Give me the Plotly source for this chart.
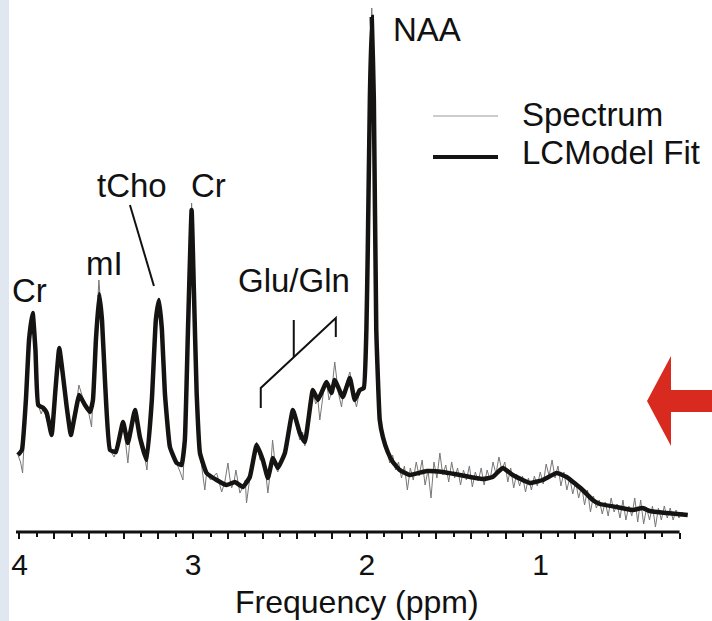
import plotly.graph_objects as go

W, H = 712, 621
ML, MR, MT, MB = 16, 22, 0, 89
PW, PH = W - ML - MR, H - MT - MB
FONT = "Arial, 'Liberation Sans', Helvetica, sans-serif"

# ---------------- data (ppm, arbitrary units) ----------------
fit_ppm = [
    4.009, 3.986, 3.963, 3.945, 3.924, 3.908, 3.892, 3.863, 3.843, 3.815,
    3.793, 3.771, 3.750, 3.728, 3.704, 3.681, 3.656, 3.623, 3.594, 3.577,
    3.560, 3.541, 3.525, 3.508, 3.479, 3.445, 3.404, 3.376, 3.335, 3.307,
    3.268, 3.238, 3.215, 3.197, 3.180, 3.163, 3.134, 3.095, 3.067, 3.048,
    3.030, 3.009, 2.996, 2.980, 2.961, 2.923, 2.865, 2.808, 2.760, 2.714,
    2.674, 2.635, 2.599, 2.570, 2.541, 2.513, 2.472, 2.426, 2.386, 2.357,
    2.311, 2.282, 2.232, 2.204, 2.185, 2.139, 2.098, 2.070, 2.041, 2.018,
    2.003, 1.995, 1.983, 1.972, 1.960, 1.946, 1.926, 1.908, 1.880, 1.851,
    1.811, 1.753, 1.655, 1.563, 1.465, 1.333, 1.276, 1.218, 1.160, 1.063,
    0.988, 0.907, 0.850, 0.758, 0.700, 0.660, 0.562, 0.470, 0.412, 0.372,
    0.274, 0.153,
]
fit_au = [
    77, 82, 132, 192, 219, 182, 127, 124, 119, 97,
    142, 184, 157, 125, 97, 117, 137, 127, 120, 132,
    192, 238, 212, 152, 82, 80, 110, 89, 122, 95,
    72, 132, 212, 232, 202, 139, 85, 69, 67, 92,
    202, 322, 242, 139, 79, 59, 52, 47, 50, 45,
    55, 87, 72, 54, 74, 64, 79, 122, 99, 90,
    142, 132, 150, 139, 152, 135, 154, 132, 142, 144,
    202, 282, 432, 515, 432, 202, 112, 95, 80, 70,
    62, 57, 61, 60, 57, 53, 55, 64, 57, 49,
    52, 59, 55, 42, 32, 28, 25, 22, 24, 21,
    19, 17,
]

spec_ppm = [
    4.009, 3.994, 3.982, 3.963, 3.945, 3.924, 3.908, 3.892, 3.875, 3.863,
    3.843, 3.815, 3.793, 3.771, 3.750, 3.728, 3.704, 3.681, 3.658, 3.623,
    3.600, 3.585, 3.577, 3.560, 3.543, 3.525, 3.508, 3.479, 3.455, 3.445,
    3.420, 3.404, 3.390, 3.376, 3.360, 3.335, 3.307, 3.285, 3.266, 3.238,
    3.215, 3.197, 3.180, 3.163, 3.134, 3.095, 3.075, 3.059, 3.048, 3.030,
    3.009, 2.996, 2.980, 2.961, 2.945, 2.933, 2.923, 2.900, 2.865, 2.850,
    2.836, 2.818, 2.800, 2.790, 2.779, 2.765, 2.754, 2.742, 2.731, 2.714,
    2.700, 2.693, 2.674, 2.655, 2.635, 2.615, 2.599, 2.583, 2.570, 2.556,
    2.543, 2.527, 2.513, 2.495, 2.472, 2.450, 2.426, 2.405, 2.386, 2.370,
    2.357, 2.335, 2.311, 2.295, 2.282, 2.271, 2.250, 2.232, 2.218, 2.204,
    2.185, 2.165, 2.146, 2.139, 2.120, 2.098, 2.080, 2.070, 2.060, 2.041,
    2.018, 2.003, 1.995, 1.983, 1.972, 1.960, 1.946, 1.935,
    1.920, 1.903, 1.886, 1.869, 1.852, 1.835, 1.818, 1.801, 1.784, 1.767,
    1.750, 1.733, 1.716, 1.699, 1.682, 1.665, 1.648, 1.631, 1.614, 1.597,
    1.580, 1.563, 1.546, 1.529, 1.512, 1.495, 1.478, 1.461, 1.444, 1.427,
    1.410, 1.393, 1.376, 1.359, 1.342, 1.325, 1.308, 1.291, 1.274, 1.257,
    1.240, 1.223, 1.206, 1.189, 1.172, 1.155, 1.138, 1.121, 1.104, 1.087,
    1.070, 1.053, 1.036, 1.019, 1.002, 0.985, 0.968, 0.951, 0.934, 0.917,
    0.900, 0.883, 0.866, 0.849, 0.832, 0.815, 0.798, 0.781, 0.764, 0.747,
    0.730, 0.713, 0.696, 0.679, 0.662, 0.645, 0.628, 0.611, 0.594, 0.577,
    0.560, 0.543, 0.526, 0.509, 0.492, 0.475, 0.458, 0.441, 0.424, 0.407,
    0.390, 0.373, 0.356, 0.339, 0.322, 0.305, 0.288, 0.271, 0.254, 0.237,
    0.220, 0.203, 0.186, 0.169, 0.152,
]
spec_au = [
    77, 70, 59, 132, 192, 221, 182, 127, 118, 124,
    112, 97, 142, 186, 157, 125, 95, 117, 147, 127,
    118, 105, 132, 192, 252, 212, 152, 82, 75, 80,
    95, 112, 90, 69, 100, 124, 95, 80, 62, 132,
    212, 234, 202, 139, 85, 69, 60, 52, 92, 202,
    329, 242, 139, 79, 60, 42, 59, 52, 59, 48,
    40, 50, 69, 55, 44, 50, 62, 50, 39, 45,
    52, 29, 54, 70, 90, 72, 72, 60, 39, 60,
    92, 66, 60, 70, 79, 100, 122, 105, 92, 100,
    86, 115, 142, 128, 132, 112, 140, 150, 132, 139,
    170, 140, 125, 135, 148, 160, 140, 132, 125, 142,
    144, 202, 282, 432, 524, 432, 202, 130,
    107, 92, 87, 69, 77, 62, 70, 54, 66, 42,
    64, 52, 70, 56, 72, 47, 62, 34, 70, 54,
    79, 57, 67, 50, 70, 54, 64, 47, 62, 52,
    66, 45, 60, 51, 64, 47, 62, 52, 70, 58,
    75, 62, 70, 50, 64, 44, 58, 46, 56, 40,
    54, 42, 56, 46, 60, 48, 68, 56, 72, 54,
    66, 46, 60, 42, 54, 38, 50, 34, 46, 27,
    42, 20, 36, 24, 32, 18, 30, 16, 34, 20,
    28, 14, 32, 12, 26, 16, 34, 10, 32, 8,
    24, 12, 26, 5, 24, 12, 26, 14, 24, 12,
    22, 14, 20, 16, 18,
]

major_ticks = [4.0, 3.8, 3.6, 3.4, 3.2, 3.0, 2.8, 2.6, 2.4, 2.2,
               2.0, 1.8, 1.6, 1.4, 1.2, 1.0, 0.8, 0.6, 0.4, 0.2]
major_text = ["4", "", "", "", "", "3", "", "", "", "",
              "2", "", "", "", "", "1", "", "", "", ""]
minor_ticks = [3.9, 3.7, 3.5, 3.3, 3.1, 2.9, 2.7, 2.5, 2.3, 2.1,
               1.9, 1.7, 1.5, 1.3, 1.1, 0.9, 0.7, 0.5, 0.3]

# peak labels: (text, ppm, au)
peak_labels = [
    ("NAA", 1.655, 503),
    ("Cr", 2.910, 347),
    ("tCho", 3.350, 347),
    ("mI", 3.508, 269),
    ("Cr", 3.940, 242),
    ("Glu/Gln", 2.418, 252),
]

X_RANGE = [4.02, 0.14]
Y_RANGE = [0, 532]


def pxx(p):
    return (p - ML) / PW


def pxy(p):
    return (MT + PH - p) / PH


fig = go.Figure()
fig.add_trace(go.Scatter(x=spec_ppm, y=spec_au, mode="lines", name="Spectrum",
                         line=dict(color="#777777", width=1), showlegend=False))
fig.add_trace(go.Scatter(x=fit_ppm, y=fit_au, mode="lines", name="LCModel Fit",
                         line=dict(color="#161412", width=4.5, shape="spline", smoothing=0.35),
                         showlegend=False))

shapes = []
# left light-blue strip
shapes.append(dict(type="rect", xref="paper", yref="paper",
                   x0=pxx(0), x1=pxx(9), y0=pxy(H), y1=pxy(0),
                   fillcolor="#e0e7f0", line=dict(width=0), layer="below"))
# axis line
shapes.append(dict(type="line", xref="x", yref="paper", x0=4.02, x1=0.2, y0=0, y1=0,
                   line=dict(color="#111111", width=3)))
# tCho leader line
shapes.append(dict(type="line", xref="x", yref="y", x0=3.364, y0=327, x1=3.226, y1=246,
                   line=dict(color="#111111", width=2)))
# Glu/Gln bracket
shapes.append(dict(type="path", xref="x", yref="y",
                   path="M 2.611 124 L 2.611 144 L 2.179 214 L 2.179 195",
                   line=dict(color="#111111", width=2)))
shapes.append(dict(type="line", xref="x", yref="y", x0=2.421, y0=175, x1=2.421, y1=212,
                   line=dict(color="#111111", width=2)))
# legend lines
shapes.append(dict(type="line", xref="paper", yref="paper",
                   x0=pxx(433), x1=pxx(498), y0=pxy(116), y1=pxy(116),
                   line=dict(color="#9a9a9a", width=1)))
shapes.append(dict(type="line", xref="paper", yref="paper",
                   x0=pxx(433), x1=pxx(498), y0=pxy(157), y1=pxy(157),
                   line=dict(color="#161412", width=4)))
# red arrow
arrow = [(647, 401), (671, 356), (671, 390), (716, 390), (716, 412), (671, 412), (671, 446)]
path = "M " + " L ".join(f"{pxx(a):.5f} {pxy(b):.5f}" for a, b in arrow) + " Z"
shapes.append(dict(type="path", xref="paper", yref="paper", path=path,
                   fillcolor="#d92a1f", line=dict(width=0)))

annotations = []
for txt, xp, yp in peak_labels:
    annotations.append(dict(text=txt, x=xp, y=yp, xref="x", yref="y", showarrow=False,
                            xanchor="center", yanchor="middle",
                            font=dict(family=FONT, size=33, color="#111111")))
annotations.append(dict(text="Spectrum", x=pxx(520), y=pxy(115), xref="paper", yref="paper",
                        showarrow=False, xanchor="left", yanchor="middle",
                        font=dict(family=FONT, size=33, color="#111111")))
annotations.append(dict(text="LCModel Fit", x=pxx(520), y=pxy(152), xref="paper", yref="paper",
                        showarrow=False, xanchor="left", yanchor="middle",
                        font=dict(family=FONT, size=33, color="#111111")))
annotations.append(dict(text="Frequency (ppm)", x=pxx(357), y=pxy(602), xref="paper", yref="paper",
                        showarrow=False, xanchor="center", yanchor="middle",
                        font=dict(family=FONT, size=32, color="#111111")))

fig.update_layout(
    width=W, height=H,
    margin=dict(l=ML, r=MR, t=MT, b=MB, pad=0),
    paper_bgcolor="white", plot_bgcolor="white",
    shapes=shapes, annotations=annotations,
    showlegend=False,
    xaxis=dict(range=X_RANGE, showgrid=False, zeroline=False, showline=False,
               tickmode="array", tickvals=major_ticks, ticktext=major_text,
               ticks="outside", ticklen=6, tickwidth=2, tickcolor="#111111",
               tickfont=dict(family=FONT, size=30, color="#111111"),
               minor=dict(tickmode="array", tickvals=minor_ticks, ticks="outside",
                          ticklen=4, tickwidth=2, tickcolor="#111111"),
               fixedrange=True),
    yaxis=dict(range=Y_RANGE, visible=False, fixedrange=True),
)

fig.write_html("out.html")
